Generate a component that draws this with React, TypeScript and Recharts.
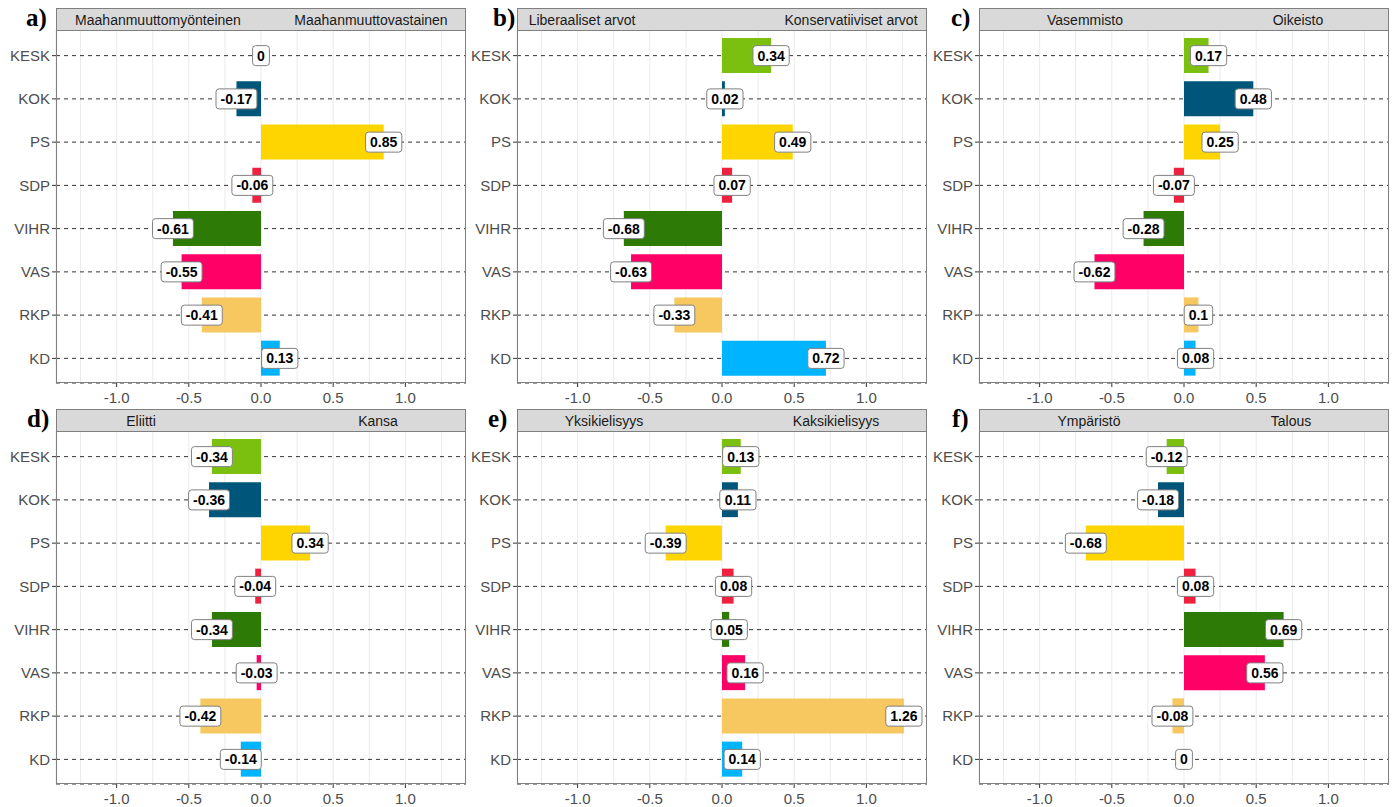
import React from 'react';
import { ComposedChart, Bar, Scatter, XAxis, YAxis, CartesianGrid, Cell } from 'recharts';

const parties = ['KESK', 'KOK', 'PS', 'SDP', 'VIHR', 'VAS', 'RKP', 'KD'];
const partyColors = ['#7BC00E', '#00557A', '#FFD500', '#F0203F', '#2E7A06', '#FF0066', '#F6C85F', '#00B4FF'];

const immigration = [0, -0.17, 0.85, -0.06, -0.61, -0.55, -0.41, 0.13];
const values = [0.34, 0.02, 0.49, 0.07, -0.68, -0.63, -0.33, 0.72];
const leftRight = [0.17, 0.48, 0.25, -0.07, -0.28, -0.62, 0.1, 0.08];
const elitePeople = [-0.34, -0.36, 0.34, -0.04, -0.34, -0.03, -0.42, -0.14];
const bilingual = [0.13, 0.11, -0.39, 0.08, 0.05, 0.16, 1.26, 0.14];
const envEconomy = [-0.12, -0.18, -0.68, 0.08, 0.69, 0.56, -0.08, 0];

const panelLetters = ['a)', 'b)', 'c)', 'd)', 'e)', 'f)'];
const leftLabels = ['Maahanmuuttomyönteinen', 'Liberaaliset arvot', 'Vasemmisto', 'Eliitti', 'Yksikielisyys', 'Ympäristö'];
const rightLabels = ['Maahanmuuttovastainen', 'Konservatiiviset arvot', 'Oikeisto', 'Kansa', 'Kaksikielisyys', 'Talous'];

const majorTicks = [-1, -0.5, 0, 0.5, 1];
const minorTicks = [-1.25, -0.75, -0.25, 0.25, 0.75, 1.25];
const allTicks = [...majorTicks, ...minorTicks].sort((a, b) => a - b);

const series = [immigration, values, leftRight, elitePeople, bilingual, envEconomy];

// layout (pixels)
const colLeft = [56, 517, 979];
const rowTop = [30, 431];
const plotW = 410;
const plotH = 353;
const stripH = 22;
const yAxisW = 56;
const letterLeft = [26, 493, 951, 27, 488, 952];
const leftLabelX = [101, 64, 105, 84, 86, 109];
const rightLabelX = [314, 333, 318, 321, 318, 311];

const SANS = '"Liberation Sans", Arial, Helvetica, sans-serif';

const fmt = (v: number) => (v === 0 ? '0' : String(v));

const charW = (c: string) => (c === '-' ? 0.333 : c === '.' ? 0.278 : 0.556);

// boxed value label, drawn as the scatter point at (value, party)
const ValueLabel = (props: any) => {
  const { cx, cy, payload } = props;
  const text = fmt(payload.value);
  const w = text.split('').reduce((s, c) => s + charW(c), 0) * 14 + 9;
  return (
    <g>
      <rect x={cx - w / 2} y={cy - 10} width={w} height={20} rx={3} ry={3} fill="#fff" stroke="#808080" strokeWidth={1} />
      <text x={cx} y={cy + 5} textAnchor="middle" fontFamily={SANS} fontWeight="bold" fontSize={14} fill="#000">
        {text}
      </text>
    </g>
  );
};

// only major ticks get a mark and a label
const XTick = (props: any) => {
  const { x, y, payload } = props;
  if (!majorTicks.includes(payload.value)) return null;
  return (
    <g>
      <line x1={x} x2={x} y1={y} y2={y + 4} stroke="#333" />
      <text x={x} y={y + 20} textAnchor="middle" fontFamily={SANS} fontSize={15} fill="#4D4D4D">
        {Number(payload.value).toFixed(1)}
      </text>
    </g>
  );
};

const Panel = ({ idx }: { idx: number }) => {
  const left = colLeft[idx % 3];
  const top = rowTop[Math.floor(idx / 3)];
  const data = parties.map((p, i) => ({ party: p, value: series[idx][i] }));
  return (
    <>
      <div
        style={{
          position: 'absolute', left: letterLeft[idx], top: top - stripH - 5, lineHeight: '30px',
          fontFamily: '"Liberation Serif", "Times New Roman", serif', fontWeight: 'bold', fontSize: 25, color: '#000',
        }}
      >
        {panelLetters[idx]}
      </div>
      <div
        style={{
          position: 'absolute', left, top: top - stripH, width: plotW, height: stripH + 1, boxSizing: 'border-box',
          background: '#D9D9D9', border: '1px solid #7F7F7F', fontFamily: SANS, fontSize: 14, color: '#1A1A1A',
        }}
      >
        <span style={{ position: 'absolute', left: leftLabelX[idx], top: 1, transform: 'translateX(-50%)', whiteSpace: 'nowrap', lineHeight: '20px' }}>
          {leftLabels[idx]}
        </span>
        <span style={{ position: 'absolute', left: rightLabelX[idx], top: 1, transform: 'translateX(-50%)', whiteSpace: 'nowrap', lineHeight: '20px' }}>
          {rightLabels[idx]}
        </span>
      </div>
      <div style={{ position: 'absolute', left: left - yAxisW, top }}>
        <ComposedChart
          width={yAxisW + plotW}
          height={plotH + 26}
          data={data}
          layout="vertical"
          barCategoryGap="9%"
          margin={{ top: 0, right: 0, left: 0, bottom: 0 }}
        >
          <CartesianGrid horizontal={false} stroke="#EBEBEB" strokeWidth={1} />
          <CartesianGrid vertical={false} stroke="#333" strokeDasharray="4 4" />
          <XAxis
            type="number"
            domain={[-1.42, 1.42]}
            ticks={allTicks}
            interval={0}
            allowDataOverflow
            axisLine={false}
            tickLine={false}
            tickSize={0}
            tickMargin={0}
            height={26}
            tick={<XTick />}
          />
          <YAxis
            type="category"
            dataKey="party"
            width={yAxisW}
            axisLine={false}
            tickLine={{ stroke: '#333' }}
            tickSize={4}
            padding={{ top: 4, bottom: 3 }}
            tick={{ fill: '#4D4D4D', fontSize: 15, fontFamily: SANS }}
          />
          <Bar dataKey="value" isAnimationActive={false}>
            {data.map((d, i) => (
              <Cell key={d.party} fill={partyColors[i]} />
            ))}
          </Bar>
          <Scatter dataKey="value" isAnimationActive={false} shape={<ValueLabel />} />
        </ComposedChart>
      </div>
      <div
        style={{
          position: 'absolute', left, top, width: plotW, height: plotH, boxSizing: 'border-box',
          border: '1px solid #7F7F7F', pointerEvents: 'none',
        }}
      />
    </>
  );
};

export default function App() {
  return (
    <div style={{ position: 'absolute', left: 0, top: 0, width: 1396, height: 807, background: '#fff' }}>
      {panelLetters.map((_, i) => (
        <Panel key={i} idx={i} />
      ))}
    </div>
  );
}
